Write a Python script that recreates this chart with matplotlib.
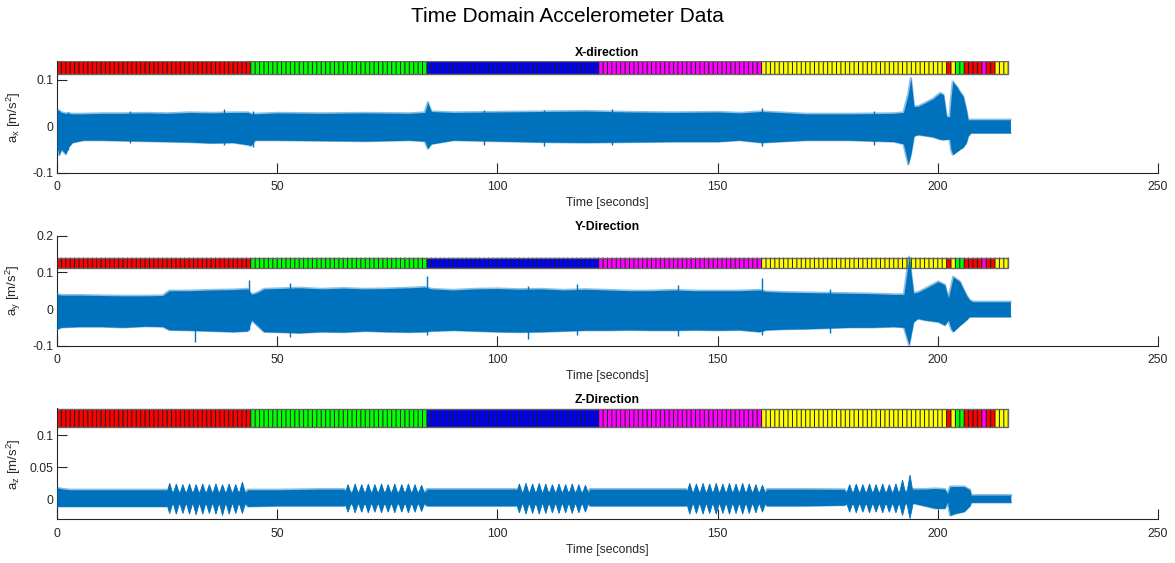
import numpy as np
import matplotlib
matplotlib.use('Agg')
import matplotlib.pyplot as plt

plt.rcParams['font.family'] = ['Liberation Sans', 'DejaVu Sans']
plt.rcParams['mathtext.fontset'] = 'custom'
plt.rcParams['mathtext.rm'] = 'Liberation Sans'

# activity labels, one cell per second
seg_start = [0, 44, 84, 123, 160, 202, 203, 204, 206, 210, 211, 213]
seg_end = [44, 84, 123, 160, 202, 203, 204, 206, 210, 211, 213, 216]
seg_color = ['red', 'lime', 'blue', 'magenta', 'yellow', 'red',
             'yellow', 'lime', 'red', 'magenta', 'red', 'yellow']

# X: envelope of the signal (time, max, min)
x_t = [0, 0.5, 1, 2, 2.6, 3.5, 6, 10, 15, 20, 25, 30, 35, 40, 43.5, 44, 45,
       50, 60, 70, 80, 83.5, 84.2, 85, 90, 100, 110, 120, 130, 140, 150, 155,
       160, 170, 180, 190, 192.2, 193.3, 193.9, 194.6, 195.5, 197, 199, 200.5,
       201.3, 202, 202.7, 203, 203.4, 204.3, 205, 205.8, 206.5, 206.9, 207.5,
       210, 216.5]
x_hi = [0.036, 0.034, 0.030, 0.028, 0.028, 0.027, 0.027, 0.028, 0.028, 0.029,
        0.028, 0.030, 0.029, 0.030, 0.030, 0.027, 0.027, 0.029, 0.028, 0.029,
        0.028, 0.030, 0.052, 0.032, 0.030, 0.031, 0.032, 0.033, 0.031, 0.030,
        0.031, 0.029, 0.032, 0.027, 0.027, 0.028, 0.030, 0.070, 0.104, 0.043,
        0.043, 0.050, 0.060, 0.072, 0.068, 0.021, 0.021, 0.060, 0.0965, 0.086,
        0.075, 0.064, 0.035, 0.014, 0.0143, 0.0143, 0.0143]
x_lo = [-0.045, -0.062, -0.050, -0.060, -0.045, -0.035, -0.030, -0.030,
        -0.031, -0.032, -0.033, -0.034, -0.036, -0.035, -0.040, -0.042,
        -0.030, -0.030, -0.031, -0.032, -0.030, -0.032, -0.048, -0.038,
        -0.030, -0.032, -0.034, -0.035, -0.034, -0.033, -0.033, -0.030,
        -0.035, -0.030, -0.030, -0.033, -0.038, -0.082, -0.060, -0.021,
        -0.018, -0.020, -0.023, -0.028, -0.029, -0.028, -0.028, -0.050,
        -0.061, -0.055, -0.050, -0.045, -0.035, -0.021, -0.0143, -0.0143,
        -0.0143]

# X: isolated spikes (time, max, min)
x_spk_t = [2.6, 16.5, 38.0, 44.5, 97.0, 110.5, 126.0, 160.2, 185.5]
x_spk_hi = [0.030, 0.033, 0.038, 0.033, 0.035, 0.036, 0.038, 0.040, 0.034]
x_spk_lo = [-0.052, -0.036, -0.040, -0.045, -0.040, -0.042, -0.040, -0.042, -0.040]

# Y
y_t = [0, 1, 5, 10, 15, 20, 24, 25.5, 30, 35, 40, 43.3, 44.2, 45.5, 47, 50,
       55, 60, 65, 70, 75, 80, 83.5, 85, 90, 95, 100, 105, 110, 115, 120, 125,
       130, 135, 140, 145, 150, 155, 159.5, 161, 165, 170, 175, 180, 185, 190,
       192.3, 193.5, 194.5, 195.5, 197, 200.1, 201.6, 202.4, 203, 203.5, 205,
       206.5, 207.2, 208, 216.5]
y_hi = [0.040, 0.038, 0.038, 0.037, 0.036, 0.036, 0.037, 0.050, 0.050, 0.052,
        0.053, 0.055, 0.040, 0.045, 0.055, 0.056, 0.058, 0.055, 0.057, 0.055,
        0.056, 0.058, 0.060, 0.055, 0.052, 0.055, 0.056, 0.054, 0.055, 0.052,
        0.054, 0.052, 0.050, 0.050, 0.052, 0.050, 0.050, 0.050, 0.052, 0.048,
        0.046, 0.045, 0.044, 0.043, 0.042, 0.040, 0.040, 0.143, 0.044, 0.046,
        0.055, 0.075, 0.066, 0.030, 0.060, 0.088, 0.075, 0.038, 0.025, 0.020,
        0.020]
y_lo = [-0.055, -0.050, -0.048, -0.048, -0.050, -0.047, -0.048, -0.057,
        -0.058, -0.060, -0.062, -0.060, -0.030, -0.045, -0.062, -0.063,
        -0.065, -0.062, -0.063, -0.060, -0.062, -0.063, -0.062, -0.060,
        -0.058, -0.060, -0.062, -0.063, -0.062, -0.060, -0.058, -0.058,
        -0.057, -0.058, -0.058, -0.057, -0.058, -0.057, -0.062, -0.057,
        -0.055, -0.054, -0.052, -0.050, -0.050, -0.048, -0.050, -0.098,
        -0.035, -0.026, -0.030, -0.035, -0.044, -0.030, -0.053, -0.062,
        -0.045, -0.030, -0.021, -0.021, -0.021]

# Y: isolated spikes (time, max, min)
y_spk_t = [31.3, 43.7, 53.0, 84.0, 107.0, 118.0, 141.0, 160.0, 175.5]
y_spk_hi = [0.045, 0.079, 0.070, 0.090, 0.062, 0.068, 0.066, 0.084, 0.055]
y_spk_lo = [-0.089, -0.058, -0.075, -0.070, -0.082, -0.070, -0.074, -0.071, -0.066]

# Z: steady band (narrower under the spindle bursts)
z_t = [0, 1.5, 3, 10, 20, 24.8, 25.2, 42.8, 43.3, 50, 60, 65.2, 65.6, 83.5,
       84, 90, 100, 104.2, 104.6, 120.6, 121, 130, 140, 142.8, 143.2, 160.8,
       161.2, 170, 178.8, 179.2, 192, 194.4, 197, 199.4, 201.6, 202.2, 202.8,
       204, 206, 207.3, 207.6, 216.6]
z_hi = [0.018, 0.016, 0.015, 0.015, 0.015, 0.015, 0.011, 0.011, 0.015, 0.015,
        0.016, 0.016, 0.011, 0.011, 0.016, 0.016, 0.016, 0.016, 0.011, 0.011,
        0.016, 0.016, 0.016, 0.016, 0.011, 0.011, 0.016, 0.016, 0.0156, 0.011,
        0.011, 0.016, 0.016, 0.017, 0.016, 0.009, 0.020, 0.020, 0.020, 0.015,
        0.0067, 0.0067]
z_lo = [-0.011, -0.011, -0.011, -0.011, -0.011, -0.011, -0.007, -0.007,
        -0.011, -0.010, -0.010, -0.010, -0.007, -0.007, -0.010, -0.010,
        -0.010, -0.010, -0.007, -0.007, -0.010, -0.010, -0.010, -0.010,
        -0.007, -0.007, -0.010, -0.010, -0.009, -0.007, -0.007, -0.006,
        -0.010, -0.014, -0.014, -0.004, -0.025, -0.022, -0.019, -0.010,
        -0.0047, -0.0047]

# Z: spindle bursts (peak time, max, min)
z_sp_t = [25.6, 27.1, 28.6, 30.1, 31.6, 33.1, 34.6, 36.1, 37.6, 39.1, 40.6, 42.1,
          66.1, 67.7, 69.2, 70.7, 72.2, 73.7, 75.2, 76.7, 78.3, 79.8, 81.3, 82.8,
          105.0, 106.5, 108.0, 109.5, 111.0, 112.5, 114.0, 115.5, 117.0, 118.5, 120.0,
          143.7, 145.2, 146.7, 148.2, 149.7, 151.2, 152.7, 154.2, 155.7, 157.2, 158.7, 160.2,
          180.0, 181.5, 183.0, 184.5, 186.0, 187.5, 189.0, 190.5, 192.0, 193.7]
z_sp_hi = [0.025, 0.024, 0.023, 0.024, 0.023, 0.024, 0.023, 0.024, 0.023, 0.024, 0.023, 0.027,
           0.023, 0.024, 0.023, 0.024, 0.023, 0.024, 0.023, 0.024, 0.023, 0.024, 0.023, 0.022,
           0.024, 0.025, 0.024, 0.025, 0.024, 0.023, 0.024, 0.023, 0.024, 0.023, 0.022,
           0.025, 0.024, 0.025, 0.024, 0.025, 0.024, 0.025, 0.024, 0.025, 0.024, 0.023, 0.022,
           0.023, 0.024, 0.023, 0.024, 0.023, 0.024, 0.023, 0.024, 0.030, 0.038]
z_sp_lo = [-0.022, -0.023, -0.022, -0.023, -0.024, -0.023, -0.022, -0.023, -0.025, -0.023, -0.022, -0.022,
           -0.020, -0.021, -0.020, -0.021, -0.020, -0.021, -0.020, -0.021, -0.020, -0.021, -0.020, -0.019,
           -0.021, -0.023, -0.022, -0.023, -0.022, -0.021, -0.022, -0.021, -0.022, -0.021, -0.020,
           -0.023, -0.022, -0.023, -0.022, -0.023, -0.022, -0.023, -0.022, -0.023, -0.022, -0.021, -0.020,
           -0.020, -0.021, -0.020, -0.021, -0.020, -0.021, -0.020, -0.021, -0.025, -0.030]

line_col = '#0072BD'
axis_col = '#262626'

fig = plt.figure(figsize=(11.75, 5.63), dpi=100)
fig.suptitle('Time Domain Accelerometer Data', x=567 / 1175, y=1 - 17 / 563,
             va='center', fontsize=15)

axes = [fig.add_axes([0.0485, 0.6933, 0.937, 0.1976]),
        fig.add_axes([0.0485, 0.3860, 0.937, 0.1953]),
        fig.add_axes([0.0485, 0.0776, 0.937, 0.1972])]
titles = ['X-direction', 'Y-Direction', 'Z-Direction']
ylabels = [r'a$_{\mathregular{x}}$ [m/s$^{\mathregular{2}}$]',
           r'a$_{\mathregular{y}}$ [m/s$^{\mathregular{2}}$]',
           r'a$_{\mathregular{z}}$ [m/s$^{\mathregular{2}}$]']
ylims = [(-0.1, 0.14), (-0.1, 0.2), (-0.031, 0.1417)]
yticks = [[-0.1, 0, 0.1], [-0.1, 0, 0.1, 0.2], [0, 0.05, 0.1]]
ytl = [['-0.1', '0', '0.1'], ['-0.1', '0', '0.1', '0.2'], ['0', '0.05', '0.1']]
envs = [(x_t, x_hi, x_lo), (y_t, y_hi, y_lo), (z_t, z_hi, z_lo)]
bar_lo, bar_hi = 0.112, 0.1405

for i, ax in enumerate(axes):
    # label strip along the top: coloured cells, then their borders
    for s, e, c in zip(seg_start, seg_end, seg_color):
        cells = np.arange(s, e)
        ax.bar(cells, bar_hi - bar_lo, width=1, bottom=bar_lo, align='edge',
               color=c, linewidth=0, zorder=2)
    ax.vlines(np.arange(seg_start[0], seg_end[-1] + 1), bar_lo, bar_hi,
              color='#1a1a1a', linewidth=0.7, snap=False, zorder=2.2)
    ax.add_patch(plt.Rectangle((0, bar_lo), seg_end[-1], bar_hi - bar_lo,
                               fill=False, edgecolor='#666666', linewidth=1.0,
                               zorder=2.5))

    t, hi, lo = envs[i]
    ax.fill_between(t, lo, hi, color=line_col, linewidth=0, zorder=3)
    # soft rim around the band
    ax.plot(t, hi, color=line_col, linewidth=1.6, alpha=0.45, zorder=3)
    ax.plot(t, lo, color=line_col, linewidth=1.6, alpha=0.45, zorder=3)

    ax.set_xlim(0, 250)
    ax.set_ylim(*ylims[i])
    ax.set_xticks([0, 50, 100, 150, 200, 250])
    ax.set_yticks(yticks[i])
    ax.set_yticklabels(ytl[i])
    for side in ['top', 'right']:
        ax.spines[side].set_visible(False)
    for side in ['left', 'bottom']:
        ax.spines[side].set_color(axis_col)
        ax.spines[side].set_linewidth(0.8)
    ax.tick_params(direction='in', length=7.5, width=0.8, colors=axis_col,
                   labelsize=8.8)
    ax.tick_params(axis='y', pad=2.5)
    ax.tick_params(axis='x', pad=6)
    ax.set_title(titles[i], fontsize=8.8, fontweight='bold', pad=4)
    ax.set_xlabel('Time [seconds]', fontsize=8.8, color=axis_col, labelpad=3)
    ax.set_ylabel(ylabels[i], fontsize=9.5, color=axis_col)
    ax.yaxis.set_label_coords(-0.031, 0.5)

# spikes standing out of the band
axes[0].vlines(x_spk_t, x_spk_lo, x_spk_hi, color=line_col, linewidth=1.0, zorder=3)
axes[1].vlines(y_spk_t, y_spk_lo, y_spk_hi, color=line_col, linewidth=1.0, zorder=3)

# Z spindles
half_w = 0.75
for tp, h, l in zip(z_sp_t, z_sp_hi, z_sp_lo):
    axes[2].fill([tp - half_w, tp, tp + half_w, tp + half_w, tp, tp - half_w],
                 [0.008, h, 0.008, -0.005, l, -0.005],
                 color=line_col, linewidth=0.6, zorder=3)

fig.savefig('out.png', dpi=100)
